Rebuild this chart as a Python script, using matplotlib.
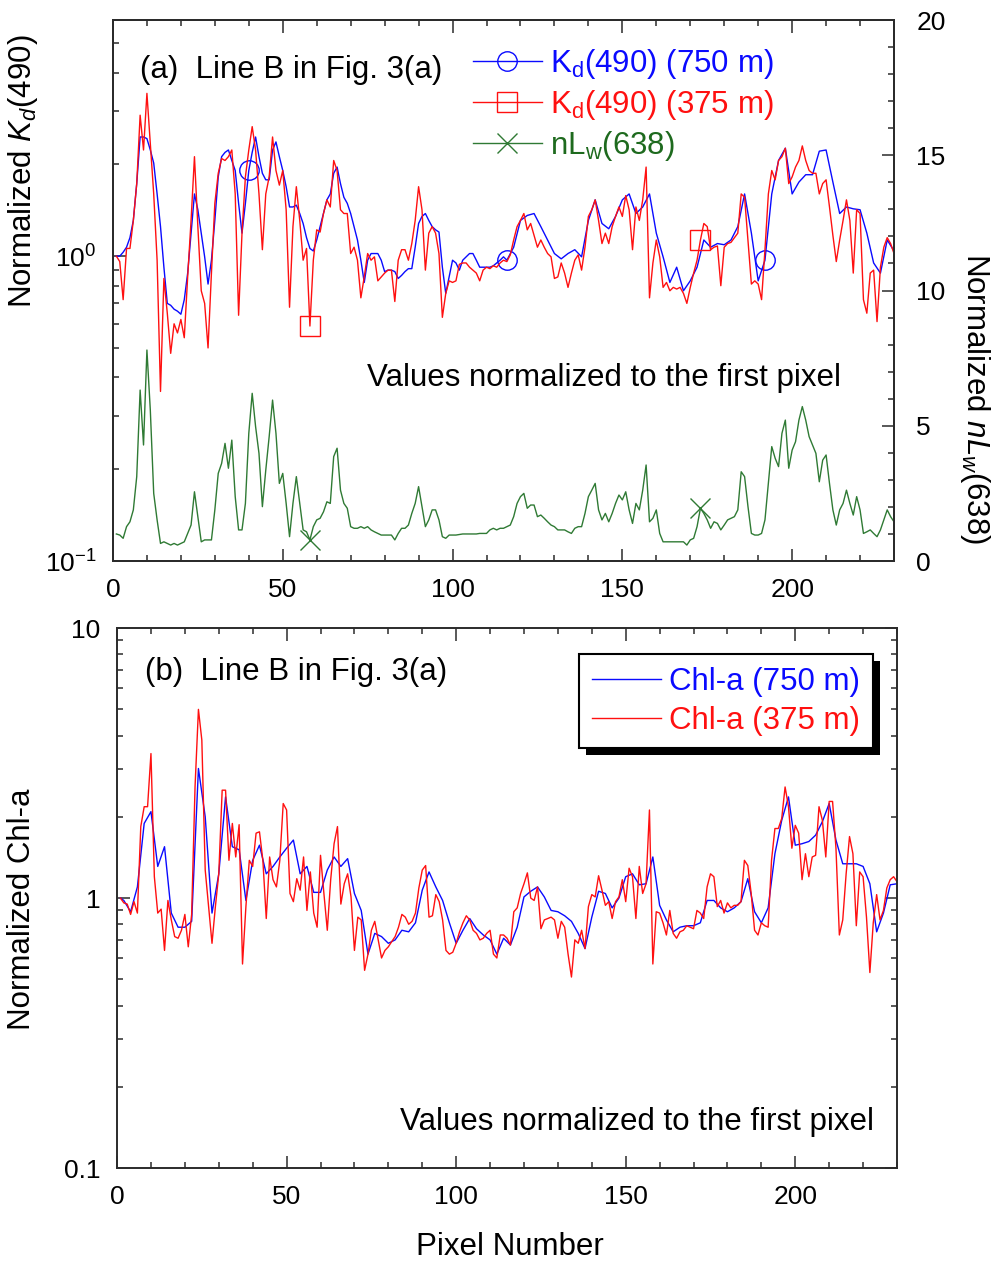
import numpy as np
import matplotlib
matplotlib.use("Agg")
import matplotlib.pyplot as plt
from matplotlib import ticker
import matplotlib.patheffects as pe

plt.rcParams['font.family'] = ['Liberation Sans', 'DejaVu Sans']
plt.rcParams['mathtext.fontset'] = 'custom'
plt.rcParams['mathtext.rm'] = 'Liberation Sans'
plt.rcParams['mathtext.it'] = 'Liberation Sans:italic'
plt.rcParams['mathtext.default'] = 'regular'

BLUE = '#0a0aff'
RED = '#ff1010'
GREEN = '#2f7a34'
AXC = '#2b2b2b'
FS = 22.5

# ---------------- data ----------------
# panel (a): Kd(490) 375 m, every pixel 1..230
px = np.arange(1, 231)
kd375 = [1.00, 0.96, 0.72, 1.06, 1.06, 1.31, 1.73, 2.90, 2.23, 3.42,
         2.34, 1.60, 0.97, 0.36, 0.845, 0.65, 0.48, 0.60, 0.56, 0.62,
         0.54, 0.855, 1.31, 2.12, 1.25, 0.77, 0.70, 0.50, 0.88, 1.49,
         1.87, 2.09, 2.06, 2.12, 2.23, 1.60, 0.64, 1.19, 1.82, 2.23,
         2.66, 2.23, 1.60, 1.05, 1.60, 1.82, 2.46, 1.91, 1.71, 1.91,
         1.42, 0.68, 1.25, 1.69, 1.31, 0.97, 1.06, 0.59, 0.97, 1.22,
         1.20, 1.38, 1.53, 1.45, 2.06, 1.91, 1.42, 1.38, 1.38, 1.02,
         1.07, 0.97, 0.73, 0.855, 1.02, 0.97, 0.995, 0.83, 0.855, 0.88,
         0.90, 0.90, 0.71, 0.97, 1.05, 1.05, 0.97, 1.10, 1.31, 1.69,
         1.42, 0.90, 1.19, 1.25, 1.19, 1.02, 0.63, 0.755, 0.83, 0.82,
         0.83, 0.94, 0.95, 0.95, 0.92, 0.90, 0.88, 0.83, 0.90, 0.92,
         0.91, 0.93, 0.92, 0.95, 0.97, 0.96, 1.01, 1.13, 1.25, 1.31,
         1.38, 1.22, 1.28, 1.17, 1.07, 1.13, 1.07, 1.02, 0.995, 0.845,
         0.855, 0.95, 0.88, 0.79, 0.88, 0.97, 1.01, 0.90, 1.07, 1.35,
         1.42, 1.53, 1.31, 1.10, 1.19, 1.10, 1.25, 1.35, 1.45, 1.35,
         1.58, 1.42, 1.05, 1.45, 1.31, 1.53, 1.96, 0.73, 0.95, 1.13,
         0.995, 0.79, 0.82, 0.77, 0.79, 0.78, 0.79, 0.755, 0.70, 0.79,
         0.88, 0.97, 1.13, 1.28, 1.25, 1.05, 1.07, 1.08, 0.80, 1.07,
         1.10, 1.11, 1.15, 1.19, 1.60, 1.56, 1.13, 0.81, 0.83, 0.81,
         0.72, 1.05, 1.60, 1.91, 1.78, 2.06, 2.12, 2.26, 1.73, 1.82,
         1.96, 2.06, 2.30, 2.06, 1.91, 1.87, 1.87, 1.60, 1.73, 1.78,
         1.45, 1.17, 0.96, 1.13, 1.31, 1.53, 1.31, 0.88, 1.42, 1.38,
         0.72, 0.65, 0.88, 0.90, 0.61, 0.92, 1.07, 1.15, 1.10, 1.02]

# Kd(490) 750 m
kd750_px = np.r_[1:116, 116:231:2]
kd750 = [1.00, 1.00, 1.03, 1.07, 1.15, 1.31, 1.73, 2.46, 2.46, 2.43,
         2.23, 2.02, 1.60, 1.25, 0.92, 0.70, 0.69, 0.67, 0.66, 0.645,
         0.72, 0.88, 1.19, 1.60, 1.42, 1.19, 0.995, 0.81, 0.97, 1.31,
         1.82, 2.12, 2.19, 2.23, 2.06, 1.91, 1.49, 1.19, 1.49, 1.91,
         2.19, 2.46, 2.12, 1.87, 1.78, 1.78, 2.23, 2.37, 2.12, 1.91,
         1.69, 1.45, 1.45, 1.47, 1.38, 1.28, 1.15, 1.06, 1.04, 1.13,
         1.25, 1.38, 1.53, 1.60, 1.87, 1.96, 1.73, 1.56, 1.49, 1.38,
         1.25, 1.13, 0.97, 0.82, 0.97, 1.02, 1.02, 1.02, 0.97, 0.89,
         0.90, 0.90, 0.89, 0.845, 0.865, 0.89, 0.91, 0.91, 1.07, 1.28,
         1.35, 1.38, 1.31, 1.25, 1.22, 1.20, 0.92, 0.755, 0.855, 0.97,
         0.95, 0.90, 0.97, 0.995, 1.02, 1.02, 0.97, 0.92, 0.92, 0.92,
         0.92, 0.93, 0.95, 0.97, 0.995,
         0.97, 1.07, 1.31, 1.36, 1.38, 1.25, 1.13, 1.02, 0.98, 1.02,
         1.05, 0.995, 1.31, 1.53, 1.28, 1.23, 1.35, 1.53, 1.60, 1.38,
         1.45, 1.60, 1.19, 0.995, 0.82, 0.92, 0.77, 0.83, 0.92, 1.13,
         1.07, 1.10, 1.09, 1.13, 1.25, 1.60, 1.19, 0.83, 0.97, 1.60,
         2.06, 2.26, 1.60, 1.75, 1.85, 1.85, 2.21, 2.23, 1.75, 1.38,
         1.45, 1.43, 1.42, 1.19, 0.95, 0.88, 1.13, 1.04]

# nLw(638), right axis
nlw638 = [1.00, 0.96, 0.84, 1.27, 1.45, 1.89, 3.12, 6.32, 4.29, 7.80,
          5.58, 2.50, 1.52, 0.65, 0.71, 0.65, 0.59, 0.65, 0.59, 0.65,
          0.71, 1.02, 1.33, 2.56, 1.64, 0.71, 0.78, 0.78, 0.78, 1.89,
          3.24, 3.61, 4.35, 3.43, 4.47, 2.38, 1.15, 1.15, 2.13, 4.72,
          6.20, 4.97, 3.98, 2.01, 3.36, 4.60, 5.95, 4.72, 2.87, 3.24,
          2.13, 0.90, 2.13, 3.12, 2.13, 1.15, 1.08, 0.78, 1.27, 1.52,
          1.58, 1.82, 2.19, 2.13, 3.86, 4.17, 2.62, 2.13, 1.95, 1.27,
          1.21, 1.21, 1.27, 1.21, 1.27, 1.15, 1.08, 1.02, 0.96, 0.96,
          0.96, 0.96, 0.78, 1.02, 1.21, 1.21, 1.33, 1.76, 2.13, 2.75,
          2.01, 1.27, 1.52, 1.89, 1.89, 1.52, 0.90, 0.84, 0.96, 0.96,
          0.96, 0.98, 1.00, 1.00, 1.00, 1.00, 1.00, 1.02, 1.02, 1.02,
          1.15, 1.21, 1.15, 1.21, 1.21, 1.27, 1.33, 1.64, 2.13, 2.38,
          2.50, 1.95, 2.07, 2.07, 1.64, 1.70, 1.58, 1.45, 1.33, 1.27,
          1.15, 1.15, 1.15, 1.08, 1.02, 1.21, 1.27, 1.27, 1.76, 2.38,
          2.62, 2.87, 1.89, 1.52, 1.76, 1.45, 1.76, 2.13, 2.44, 2.26,
          2.56, 1.89, 1.39, 2.13, 1.89, 2.62, 3.55, 1.45, 1.58, 1.89,
          1.02, 0.71, 0.71, 0.71, 0.71, 0.71, 0.71, 0.71, 0.59, 0.78,
          0.84, 1.27, 1.95, 1.76, 1.52, 1.21, 1.45, 1.39, 1.15, 1.33,
          1.52, 1.58, 1.64, 1.89, 3.30, 3.12, 2.01, 1.02, 0.96, 0.96,
          1.02, 1.52, 2.87, 4.23, 3.80, 3.49, 4.72, 5.21, 3.43, 4.10,
          4.41, 5.21, 5.71, 5.21, 4.60, 4.29, 3.98, 2.93, 3.73, 3.92,
          2.87, 1.89, 1.33, 1.89, 2.13, 2.62, 2.13, 1.70, 2.38, 1.89,
          1.02, 1.08, 1.15, 1.02, 0.90, 1.15, 1.52, 1.89, 1.64, 1.45]

# panel (b): Chl-a 375 m
chl375 = [1.00, 0.96, 0.95, 0.87, 0.97, 0.88, 1.84, 2.18, 2.18, 3.43,
          1.20, 0.88, 0.91, 0.64, 0.98, 0.83, 0.72, 0.71, 0.76, 0.87,
          0.66, 0.87, 2.58, 5.00, 3.85, 1.27, 0.93, 0.68, 0.93, 1.23,
          2.51, 2.51, 1.38, 1.89, 1.42, 1.87, 0.57, 0.93, 1.38, 1.31,
          1.74, 1.76, 1.38, 0.84, 1.42, 1.17, 1.10, 1.38, 2.24, 2.12,
          1.04, 0.97, 1.18, 1.07, 1.42, 0.90, 1.25, 0.88, 0.78, 1.44,
          1.04, 0.76, 1.17, 1.59, 1.84, 0.95, 1.13, 1.23, 1.01, 0.64,
          0.85, 0.83, 0.54, 0.62, 0.76, 0.82, 0.70, 0.60, 0.64, 0.66,
          0.69, 0.72, 0.78, 0.87, 0.85, 0.80, 0.82, 0.88, 1.09, 1.27,
          1.32, 0.85, 0.86, 1.03, 0.97, 0.83, 0.64, 0.62, 0.63, 0.68,
          0.75, 0.81, 0.86, 0.83, 0.76, 0.74, 0.70, 0.71, 0.74, 0.76,
          0.62, 0.60, 0.73, 0.73, 0.71, 0.67, 0.89, 0.92, 1.04, 1.13,
          1.24, 1.00, 0.98, 1.10, 0.77, 0.83, 0.84, 0.85, 0.83, 0.71,
          0.82, 0.78, 0.62, 0.51, 0.70, 0.68, 0.76, 0.65, 0.93, 1.03,
          1.01, 1.21, 1.07, 0.94, 0.97, 0.84, 0.97, 1.01, 1.17, 0.97,
          1.29, 1.20, 0.84, 1.31, 1.04, 1.13, 2.12, 0.57, 0.89, 0.88,
          0.81, 0.73, 0.90, 0.74, 0.71, 0.75, 0.76, 0.79, 0.78, 0.77,
          0.90, 0.88, 0.84, 1.10, 1.23, 1.20, 0.93, 0.98, 0.88, 0.96,
          0.92, 0.94, 0.94, 0.97, 1.38, 1.32, 1.04, 0.76, 0.73, 0.81,
          0.79, 0.78, 1.38, 1.81, 1.81, 1.97, 2.58, 2.18, 1.53, 1.86,
          1.74, 1.17, 1.46, 1.20, 1.42, 1.44, 2.18, 1.94, 1.42, 2.28,
          2.28, 1.53, 0.73, 0.83, 1.23, 1.69, 1.46, 0.79, 1.25, 1.20,
          0.85, 0.53, 0.81, 1.03, 0.83, 0.90, 1.09, 1.17, 1.20, 1.15]

# Chl-a 750 m
chl750_px = np.r_[1, 2:231:2]
chl750 = [1.00, 0.98, 0.89, 1.10, 1.89, 2.09, 1.31, 1.55, 0.88, 0.78,
          0.78, 0.82, 3.02, 2.00, 0.88, 1.23, 2.37, 1.55, 1.51, 0.98,
          1.38, 1.57, 1.23, 1.31, 1.42, 1.53, 1.64, 1.23, 1.31, 1.05,
          1.05, 1.27, 1.42, 1.31, 1.40, 1.04, 0.90, 0.62, 0.74, 0.72,
          0.68, 0.70, 0.76, 0.75, 0.81, 1.07, 1.25, 1.10, 0.98, 0.81,
          0.68, 0.76, 0.84, 0.77, 0.73, 0.70, 0.62, 0.71, 0.67, 0.78,
          1.01, 1.06, 1.10, 1.01, 0.90, 0.89, 0.86, 0.82, 0.74, 0.65,
          0.85, 1.06, 1.04, 0.92, 1.00, 1.20, 1.23, 1.12, 1.13, 1.42,
          0.94, 0.83, 0.75, 0.78, 0.79, 0.79, 0.81, 0.98, 0.98, 0.92,
          0.89, 0.92, 0.97, 1.18, 0.89, 0.81, 0.92, 1.46, 1.94, 2.37,
          1.57, 1.59, 1.62, 1.71, 1.92, 2.24, 1.64, 1.34, 1.34, 1.34,
          1.31, 1.13, 0.75, 0.88, 1.12, 1.13]

# pixels carrying a symbol
circ_at = [40, 116, 192]
sq_at = [58, 173]

# ---------------- figure ----------------
fig = plt.figure(figsize=(9.97, 12.61), dpi=100)
ax1 = fig.add_axes([0.1133, 0.5551, 0.7834, 0.4290])
ax1r = ax1.twinx()
ax2 = fig.add_axes([0.1174, 0.0737, 0.7823, 0.4282])


def style_axis(ax):
    for sp in ax.spines.values():
        sp.set_color(AXC)
        sp.set_linewidth(1.4)
    ax.tick_params(which='both', direction='in', color=AXC, width=1.1,
                   labelsize=19, pad=12)
    ax.tick_params(which='major', length=9)
    ax.tick_params(which='minor', length=4.5)


# panel (a)
l1, = ax1.plot(kd750_px, kd750, color=BLUE, lw=1.0, marker='o', ms=14,
               mfc='none', mew=1.0,
               markevery=[int(np.where(kd750_px == p)[0][0]) for p in circ_at],
               label='K$_{d}$(490) (750 m)')
l2, = ax1.plot(px, kd375, color=RED, lw=1.0, marker='s', ms=14,
               mfc='none', mew=1.0, markevery=[p - 1 for p in sq_at],
               label='K$_{d}$(490) (375 m)')
l3, = ax1r.plot(px, nlw638, color=GREEN, lw=1.0, marker='x', ms=14,
                mew=1.0, markevery=[p - 1 for p in sq_at],
                label='nL$_{w}$(638)')

ax1.set_yscale('log')
ax1.set_ylim(0.1, 5.95)
ax1.set_xlim(0, 230)
ax1r.set_ylim(0, 20)
ax1.xaxis.set_major_locator(ticker.MultipleLocator(50))
ax1.xaxis.set_minor_locator(ticker.MultipleLocator(10))
ax1.yaxis.set_minor_formatter(ticker.NullFormatter())
ax1r.yaxis.set_major_locator(ticker.MultipleLocator(5))
ax1r.yaxis.set_minor_locator(ticker.MultipleLocator(1))
style_axis(ax1)
style_axis(ax1r)
ax1.tick_params(which='both', top=True, right=False)
ax1r.tick_params(which='both', right=True, left=False, pad=16)

ax1.set_ylabel(r'Normalized $\mathit{K}_{\mathit{d}}$(490)', fontsize=FS)
ax1.yaxis.set_label_coords(-0.093, 0.72)
ax1r.set_ylabel(r'Normalized $\mathit{nL}_{\mathit{w}}$(638)', fontsize=FS,
                rotation=270, va='bottom')
ax1r.yaxis.set_label_coords(1.082, 0.30)

ax1.text(0.034, 0.908, '(a)  Line B in Fig. 3(a)', transform=ax1.transAxes,
         fontsize=FS, va='center', ha='left')
ax1.text(0.325, 0.338, 'Values normalized to the first pixel',
         transform=ax1.transAxes, fontsize=FS, va='center', ha='left')

leg1 = ax1r.legend(handles=[l1, l2, l3], loc='upper left',
                   bbox_to_anchor=(0.461, 0.950), frameon=False,
                   borderpad=0, borderaxespad=0, handlelength=2.2,
                   handletextpad=0.25, labelspacing=0.22, fontsize=FS)
for txt, c in zip(leg1.get_texts(), [BLUE, RED, '#1e6a1e']):
    txt.set_color(c)

# panel (b)
b1, = ax2.plot(chl750_px, chl750, color=BLUE, lw=1.0, label='Chl-a (750 m)')
b2, = ax2.plot(px, chl375, color=RED, lw=1.0, label='Chl-a (375 m)')
ax2.set_yscale('log')
ax2.set_ylim(0.1, 10)
ax2.set_xlim(0, 230)
ax2.xaxis.set_major_locator(ticker.MultipleLocator(50))
ax2.xaxis.set_minor_locator(ticker.MultipleLocator(10))
ax2.yaxis.set_major_locator(ticker.FixedLocator([0.1, 1, 10]))
ax2.yaxis.set_major_formatter(ticker.FixedFormatter(['0.1', '1', '10']))
ax2.yaxis.set_minor_formatter(ticker.NullFormatter())
style_axis(ax2)
ax2.tick_params(which='both', top=True, right=True)

ax2.set_ylabel('Normalized Chl-a', fontsize=FS)
ax2.yaxis.set_label_coords(-0.103, 0.48)
ax2.set_xlabel('Pixel Number', fontsize=FS)
ax2.xaxis.set_label_coords(0.504, -0.118)

ax2.text(0.036, 0.918, '(b)  Line B in Fig. 3(a)', transform=ax2.transAxes,
         fontsize=FS, va='center', ha='left')
ax2.text(0.363, 0.085, 'Values normalized to the first pixel',
         transform=ax2.transAxes, fontsize=FS, va='center', ha='left')

leg2 = ax2.legend(handles=[b1, b2], loc='upper right',
                  bbox_to_anchor=(0.969, 0.952), borderaxespad=0,
                  fancybox=False, framealpha=1, edgecolor='black',
                  fontsize=FS, handlelength=2.2, handletextpad=0.28,
                  borderpad=0.4, labelspacing=0.3)
for txt, c in zip(leg2.get_texts(), [BLUE, RED]):
    txt.set_color(c)
frame = leg2.get_frame()
frame.set_linewidth(1.5)
frame.set_path_effects([pe.SimplePatchShadow(offset=(5, -5), shadow_rgbFace='black',
                                             alpha=1.0), pe.Normal()])

fig.savefig('out.png', dpi=100)
